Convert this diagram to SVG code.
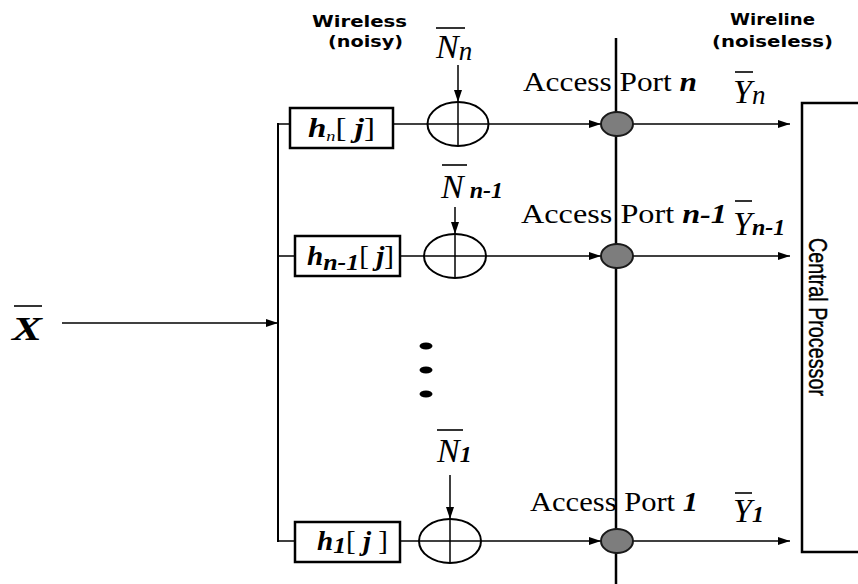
<svg xmlns="http://www.w3.org/2000/svg" width="858" height="584" viewBox="0 0 858 584">
<style>
.ln{stroke:#000;stroke-width:1.5;fill:none}
.vl{stroke:#000;stroke-width:2;fill:none}
.bold{stroke:#000;stroke-width:2.5;fill:none}
.box{stroke:#000;stroke-width:2.5;fill:#fff}
.add{stroke:#000;stroke-width:2;fill:#fff}
.port{stroke:#1a1a1a;stroke-width:2;fill:#7d7d7d}
.ser{font-family:"Liberation Serif",serif;fill:#000}
.sym{font-family:"Liberation Serif",serif;font-style:italic;font-size:34px;fill:#000}
.sub{font-family:"Liberation Serif",serif;font-style:italic;font-weight:bold;font-size:24px;fill:#000}
.hd{font-family:"DejaVu Sans",sans-serif;font-weight:bold;font-size:16px;fill:#000}
.ap{font-family:"Liberation Serif",serif;font-size:27px;fill:#000}
.bar{stroke:#000;stroke-width:1.6}
</style>
<defs>
<marker id="ah" viewBox="0 0 12 8" refX="12" refY="4" markerWidth="12" markerHeight="8" markerUnits="userSpaceOnUse" orient="auto">
<path d="M0,0 L12,4 L0,8 Z" fill="#000"/>
</marker>
</defs>

<!-- headings -->
<text class="hd" x="312" y="27" textLength="95" lengthAdjust="spacingAndGlyphs">Wireless</text>
<text class="hd" x="328" y="47" textLength="75" lengthAdjust="spacingAndGlyphs">(noisy)</text>
<text class="hd" x="730" y="25" textLength="85" lengthAdjust="spacingAndGlyphs">Wireline</text>
<text class="hd" x="712" y="47" textLength="121" lengthAdjust="spacingAndGlyphs">(noiseless)</text>

<g id="connectors">
<line class="ln" x1="62" y1="323" x2="278" y2="323" marker-end="url(#ah)"/>
<line class="vl" x1="278" y1="123" x2="278" y2="542"/>
<!-- row n -->
<line class="ln" x1="278" y1="124" x2="290" y2="124"/>
<line class="ln" x1="393" y1="124" x2="428" y2="124"/>
<line class="ln" x1="489" y1="124" x2="601" y2="124" marker-end="url(#ah)"/>
<line class="ln" x1="632" y1="124" x2="790" y2="124" marker-end="url(#ah)"/>
<line class="ln" x1="458" y1="65" x2="458" y2="102" marker-end="url(#ah)"/>
<!-- row n-1 -->
<line class="ln" x1="278" y1="256" x2="295" y2="256"/>
<line class="ln" x1="400" y1="256" x2="424" y2="256"/>
<line class="ln" x1="486" y1="256" x2="601" y2="256" marker-end="url(#ah)"/>
<line class="ln" x1="632" y1="256" x2="790" y2="256" marker-end="url(#ah)"/>
<line class="ln" x1="455" y1="207" x2="455" y2="234" marker-end="url(#ah)"/>
<!-- row 1 -->
<line class="ln" x1="278" y1="541" x2="295" y2="541"/>
<line class="ln" x1="400" y1="541" x2="419" y2="541"/>
<line class="ln" x1="481" y1="541" x2="601" y2="541" marker-end="url(#ah)"/>
<line class="ln" x1="632" y1="541" x2="790" y2="541" marker-end="url(#ah)"/>
<line class="ln" x1="450" y1="475" x2="450" y2="519" marker-end="url(#ah)"/>
</g>

<!-- bus -->
<g id="bus">
<line class="bold" x1="616" y1="38" x2="616" y2="584"/>
</g>

<!-- input X -->
<g id="input-x">
<line class="bar" x1="14" y1="306" x2="42" y2="306"/>
<text class="sym" font-weight="bold" x="12" y="340" textLength="30" lengthAdjust="spacingAndGlyphs">X</text>
</g>

<!-- row n -->
<g id="h-n">
<rect class="box" x="290" y="108" width="103" height="40"/>
<text class="ser" font-size="27" x="308" y="137" textLength="67" lengthAdjust="spacingAndGlyphs"><tspan font-style="italic" font-weight="bold">h</tspan><tspan font-style="italic" font-size="15" dy="4">n</tspan><tspan dy="-4">[ </tspan><tspan font-style="italic" font-weight="bold">j</tspan>]</text>
</g>
<g id="adder-n">
<ellipse class="add" cx="458" cy="124" rx="30.5" ry="22"/>
<line class="ln" x1="428" y1="124" x2="489" y2="124"/>
<line class="ln" x1="458" y1="102" x2="458" y2="146"/>
</g>
<g id="noise-n">
<line class="bar" x1="436" y1="28" x2="465" y2="28"/>
<text class="sym" x="436" y="58">N<tspan font-size="27" dy="2">n</tspan></text>
</g>
<g id="port-n">
<ellipse class="port" cx="617" cy="124" rx="16" ry="12"/>
<text class="ap" x="523" y="91" textLength="174" lengthAdjust="spacingAndGlyphs">Access Port <tspan font-style="italic" font-weight="bold">n</tspan></text>
</g>
<g id="y-n">
<line class="bar" x1="735" y1="72" x2="753" y2="72"/>
<text class="sym" x="733" y="103">Y<tspan font-size="27" dy="1">n</tspan></text>
</g>

<!-- row n-1 -->
<g id="h-n-1">
<rect class="box" x="295" y="236" width="105" height="40"/>
<text class="ser" font-size="27" x="307" y="265" textLength="87" lengthAdjust="spacingAndGlyphs"><tspan font-style="italic" font-weight="bold">h</tspan><tspan class="sub" font-size="18" dy="5">n-1</tspan><tspan dy="-5">[ </tspan><tspan font-style="italic" font-weight="bold">j</tspan>]</text>
</g>
<g id="adder-n-1">
<ellipse class="add" cx="455" cy="256" rx="31" ry="22"/>
<line class="ln" x1="424" y1="256" x2="486" y2="256"/>
<line class="ln" x1="455" y1="234" x2="455" y2="278"/>
</g>
<g id="noise-n-1">
<line class="bar" x1="442" y1="165" x2="467" y2="165"/>
<text class="sym" x="441" y="198">N<tspan class="sub" dx="6">n-1</tspan></text>
</g>
<g id="port-n-1">
<ellipse class="port" cx="617" cy="256" rx="16" ry="12"/>
<text class="ap" x="521" y="223" textLength="206" lengthAdjust="spacingAndGlyphs">Access Port <tspan font-style="italic" font-weight="bold">n-1</tspan></text>
</g>
<g id="y-n-1">
<line class="bar" x1="735" y1="201" x2="752" y2="201"/>
<text class="sym" x="733" y="235">Y<tspan class="sub">n-1</tspan></text>
</g>

<!-- dots -->
<g id="dots">
<ellipse cx="426" cy="346" rx="6.5" ry="3.5" fill="#000"/>
<ellipse cx="426" cy="370" rx="6.5" ry="3.5" fill="#000"/>
<ellipse cx="426" cy="394" rx="6.5" ry="3.5" fill="#000"/>
</g>

<!-- row 1 -->
<g id="h-1">
<rect class="box" x="295" y="522" width="105" height="40"/>
<text class="ser" font-size="27" x="317" y="550" textLength="71" lengthAdjust="spacingAndGlyphs"><tspan font-style="italic" font-weight="bold">h</tspan><tspan class="sub" font-size="16" dy="3">1</tspan><tspan dy="-3">[ </tspan><tspan font-style="italic" font-weight="bold">j</tspan> ]</text>
</g>
<g id="adder-1">
<ellipse class="add" cx="450" cy="541" rx="31" ry="22"/>
<line class="ln" x1="419" y1="541" x2="481" y2="541"/>
<line class="ln" x1="450" y1="519" x2="450" y2="563"/>
</g>
<g id="noise-1">
<line class="bar" x1="437" y1="430" x2="463" y2="430"/>
<text class="sym" x="437" y="462">N<tspan class="sub">1</tspan></text>
</g>
<g id="port-1">
<ellipse class="port" cx="617" cy="541" rx="16" ry="12"/>
<text class="ap" x="530" y="511" textLength="168" lengthAdjust="spacingAndGlyphs">Access Port <tspan font-style="italic" font-weight="bold">1</tspan></text>
</g>
<g id="y-1">
<line class="bar" x1="735" y1="493" x2="752" y2="493"/>
<text class="sym" x="733" y="522">Y<tspan class="sub">1</tspan></text>
</g>

<!-- central processor -->
<g id="central-processor">
<path class="bold" d="M858,103 H802 V552 H858"/>
<text x="809" y="317" transform="rotate(90 809 317)" font-family="'Liberation Sans',sans-serif" font-size="26" text-anchor="middle" textLength="158" lengthAdjust="spacingAndGlyphs" fill="#000" stroke="#000" stroke-width="0.4">Central Processor</text>
</g>
</svg>
